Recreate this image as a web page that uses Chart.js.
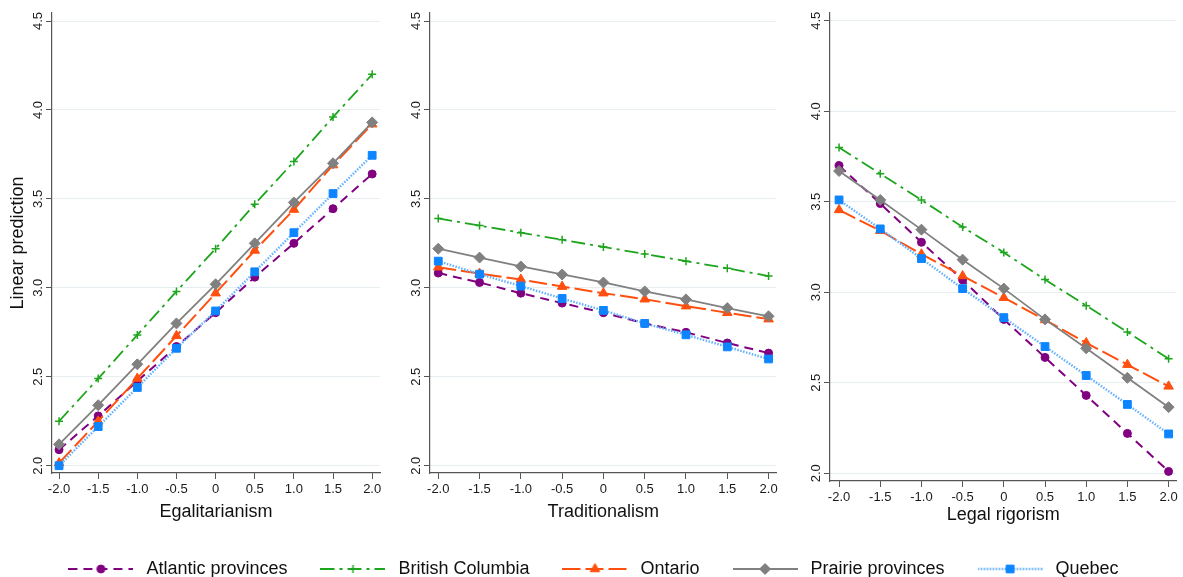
<!DOCTYPE html>
<html>
<head>
<meta charset="utf-8">
<script src="https://cdn.jsdelivr.net/npm/chart.js"></script>
<style>
  html, body { margin: 0; padding: 0; background: #fff; overflow: hidden; }
  #wrap { position: relative; width: 1183px; height: 577px; overflow: hidden; }
  #wrap canvas { position: absolute; }
</style>
</head>
<body>
<div id="wrap">
  <canvas id="leg"></canvas>
  <canvas id="c1"></canvas>
  <canvas id="c2"></canvas>
  <canvas id="c3"></canvas>
</div>
<script>
// x positions shared by all three panels
const xValues = [-2, -1.5, -1, -0.5, 0, 0.5, 1, 1.5, 2];
const yTicks = [2, 2.5, 3, 3.5, 4, 4.5];
const seriesNames = ['Atlantic provinces', 'British Columbia', 'Ontario', 'Prairie provinces', 'Quebec'];
const panelTitles = ['Egalitarianism', 'Traditionalism', 'Legal rigorism'];

// panel 1 - egalitarianism
const egalAtlantic = [2.09, 2.28, 2.475, 2.67, 2.86, 3.06, 3.25, 3.445, 3.64];
const egalBC       = [2.25, 2.49, 2.735, 2.98, 3.22, 3.47, 3.71, 3.96, 4.20];
const egalOntario  = [2.015, 2.25, 2.49, 2.73, 2.97, 3.21, 3.44, 3.69, 3.92];
const egalPrairie  = [2.12, 2.34, 2.57, 2.80, 3.02, 3.25, 3.48, 3.70, 3.93];
const egalQuebec   = [2.00, 2.22, 2.44, 2.66, 2.87, 3.09, 3.31, 3.53, 3.745];

// panel 2 - traditionalism
const tradAtlantic = [3.083, 3.03, 2.97, 2.914, 2.86, 2.80, 2.75, 2.69, 2.633];
const tradBC       = [3.39, 3.35, 3.31, 3.27, 3.23, 3.19, 3.15, 3.11, 3.066];
const tradOntario  = [3.116, 3.08, 3.047, 3.007, 2.97, 2.936, 2.897, 2.86, 2.824];
const tradPrairie  = [3.22, 3.17, 3.12, 3.075, 3.03, 2.98, 2.935, 2.886, 2.84];
const tradQuebec   = [3.15, 3.077, 3.01, 2.94, 2.873, 2.80, 2.736, 2.668, 2.60];

// panel 3 - legal rigorism
const legalAtlantic = [3.70, 3.49, 3.276, 3.068, 2.85, 2.64, 2.43, 2.22, 2.01];
const legalBC       = [3.80, 3.655, 3.51, 3.36, 3.22, 3.07, 2.926, 2.78, 2.633];
const legalOntario  = [3.455, 3.34, 3.21, 3.09, 2.97, 2.847, 2.72, 2.60, 2.48];
const legalPrairie  = [3.67, 3.51, 3.346, 3.18, 3.02, 2.85, 2.69, 2.527, 2.365];
const legalQuebec   = [3.51, 3.35, 3.186, 3.02, 2.86, 2.70, 2.54, 2.38, 2.217];

Chart.defaults.font.family = '"Liberation Sans", Arial, Helvetica, sans-serif';
Chart.defaults.color = '#1a1a1a';

const styles = [
  {color: '#800080', marker: '#800080', dash: [9, 6], width: 2, point: 'circle', radius: 4, bw: 1},
  {color: '#1ea51e', marker: '#1ea51e', dash: [14, 5, 3, 5], width: 1.8, point: 'cross', radius: 4, bw: 1.5},
  {color: '#ff4f0f', marker: '#ff4f0f', dash: [18, 5], width: 2, point: 'triangle', radius: 5.5, bw: 1},
  {color: '#808080', marker: '#808080', dash: [], width: 1.8, point: 'rectRot', radius: 5.5, bw: 1},
  {color: '#62b0ff', marker: '#0d85ff', dash: [1.5, 1.5], width: 2.4, point: 'rect', radius: 5.5, bw: 1}
];

const panels = [
  {id: 'c1', left: 0, width: 395, height: 523, padRight: 15, xMin: -2.09, xMax: 2.10, yMin: 1.959, yMax: 4.545,
   xH: 50, yTitle: 'Linear prediction', series: [egalAtlantic, egalBC, egalOntario, egalPrairie, egalQuebec]},
  {id: 'c2', left: 378, width: 405, height: 523, padRight: 2, xMin: -2.10, xMax: 2.096, yMin: 1.959, yMax: 4.545,
   xH: 50, yTitle: '', series: [tradAtlantic, tradBC, tradOntario, tradPrairie, tradQuebec]},
  {id: 'c3', left: 778, width: 405, height: 526, padRight: 1, xMin: -2.11, xMax: 2.096, yMin: 1.957, yMax: 4.543,
   xH: 45, yTitle: '', series: [legalAtlantic, legalBC, legalOntario, legalPrairie, legalQuebec]}
];

const axisColor = '#555';

panels.forEach((p, pi) => {
  const canvas = document.getElementById(p.id);
  canvas.width = p.width;
  canvas.height = p.height;
  canvas.style.left = p.left + 'px';
  canvas.style.top = '0px';

  const datasets = p.series.map((vals, i) => {
    const s = styles[i];
    return {
      label: seriesNames[i],
      data: xValues.map((x, j) => ({x: x, y: vals[j]})),
      order: -i, // later series drawn on top, as in the original
      borderColor: s.color,
      borderWidth: s.width,
      borderDash: s.dash,
      pointStyle: s.point,
      pointRadius: s.radius,
      pointBackgroundColor: s.marker,
      pointBorderColor: s.marker,
      pointBorderWidth: s.bw,
      tension: 0,
      fill: false
    };
  });

  new Chart(canvas, {
    type: 'line',
    data: {datasets: datasets},
    options: {
      responsive: false,
      animation: false,
      layout: {padding: {top: 13, right: p.padRight, left: 0, bottom: 0}},
      plugins: {legend: {display: false}, tooltip: {enabled: false}},
      scales: {
        x: {
          type: 'linear',
          min: p.xMin,
          max: p.xMax,
          afterBuildTicks: s => { s.ticks = xValues.map(v => ({value: v})); },
          afterFit: s => { s.height = p.xH; },
          ticks: {
            autoSkip: false, maxRotation: 0, padding: 3,
            color: '#1a1a1a', font: {size: 13},
            callback: v => v === 0 ? '0' : v.toFixed(1)
          },
          grid: {drawOnChartArea: false, tickLength: 6, color: axisColor, tickColor: axisColor},
          border: {color: axisColor, width: 1.2},
          title: {display: true, text: panelTitles[pi], font: {size: 18}, color: '#111', padding: 0}
        },
        y: {
          type: 'linear',
          min: p.yMin,
          max: p.yMax,
          afterBuildTicks: s => { s.ticks = yTicks.map(v => ({value: v})); },
          afterFit: s => { s.width = 52; },
          ticks: {
            minRotation: 90, maxRotation: 90, crossAlign: 'center', padding: -1,
            color: '#1a1a1a', font: {size: 13},
            callback: v => v.toFixed(1)
          },
          grid: {color: '#e6eef2', lineWidth: 1, tickLength: 6, tickColor: axisColor},
          border: {color: axisColor, width: 1.2},
          title: {display: !!p.yTitle, text: p.yTitle, font: {size: 18}, color: '#111', padding: {top: 7, bottom: 0}}
        }
      }
    }
  });
});

// legend: a separate chart that only shows its legend
const legendIcons = styles.map(s => {
  const c = document.createElement('canvas');
  c.width = 65;
  c.height = 16;
  const g = c.getContext('2d');
  g.strokeStyle = s.color;
  g.lineWidth = s.width;
  g.setLineDash(s.dash);
  g.beginPath();
  g.moveTo(0, 8);
  g.lineTo(65, 8);
  g.stroke();
  g.setLineDash([]);
  g.fillStyle = s.marker;
  g.strokeStyle = s.marker;
  g.lineWidth = s.bw;
  if (Chart.helpers && Chart.helpers.drawPoint) {
    Chart.helpers.drawPoint(g, {pointStyle: s.point, radius: s.radius, borderWidth: s.bw, rotation: 0}, 32.5, 8);
  }
  return c;
});

const leg = document.getElementById('leg');
leg.width = 1183;
leg.height = 240;
leg.style.left = '0px';
leg.style.top = '531px';

new Chart(leg, {
  type: 'line',
  data: {datasets: seriesNames.map(n => ({label: n, data: []}))},
  options: {
    responsive: false,
    animation: false,
    scales: {x: {display: false}, y: {display: false}},
    plugins: {
      tooltip: {enabled: false},
      legend: {
        position: 'top',
        labels: {
          usePointStyle: true,
          pointStyleWidth: 73,
          padding: 29,
          color: '#111',
          font: {size: 18},
          generateLabels: () => seriesNames.map((n, i) => ({
            text: n,
            pointStyle: legendIcons[i],
            fillStyle: styles[i].color,
            strokeStyle: styles[i].color,
            fontColor: '#111',
            lineWidth: 0,
            hidden: false,
            datasetIndex: i
          }))
        }
      }
    }
  }
});
</script>
</body>
</html>
